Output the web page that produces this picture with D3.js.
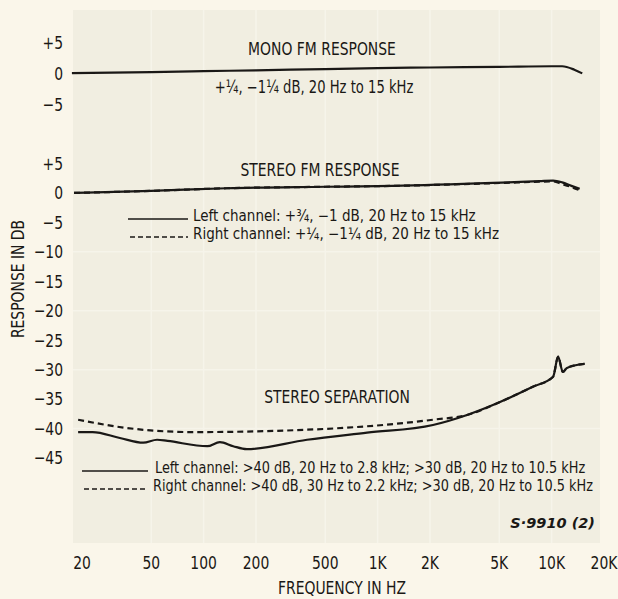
<!DOCTYPE html>
<html>
<head>
<meta charset="utf-8">
<script src="https://cdn.jsdelivr.net/npm/d3@7"></script>
<style>
  html, body { margin: 0; padding: 0; background: #faf6ea; }
  svg { display: block; }
  text { font-family: "Liberation Sans Narrow", "DejaVu Sans Condensed", "Arial Narrow", sans-serif; fill: #1a1815; }
</style>
</head>
<body>
<div id="chart"></div>
<script>
// frequency ticks
const freqTicks = [20, 50, 100, 200, 500, 1000, 2000, 5000, 10000, 20000];
const freqLabels = ["20", "50", "100", "200", "500", "1K", "2K", "5K", "10K", "20K"];
const monoTicks = [5, 0, -5];
const stereoTicks = [5, 0, -5, -10, -15, -20, -25, -30, -35, -40, -45];

// mono FM response [Hz, dB]
const monoFreq = [17.5, 50, 100, 200, 500, 1000, 2000, 5000, 10000, 11500, 13500, 15000];
const monoDb   = [0.15, 0.3, 0.45, 0.6, 0.8, 0.95, 1.05, 1.15, 1.25, 1.25, 0.7, 0.1];

// stereo FM response
const stereoFreq  = [18, 50, 136, 500, 1225, 4600, 8500, 10200, 11500, 13000, 14500];
const stereoLeft  = [0, 0.35, 0.8, 1.05, 1.2, 1.7, 2.0, 2.1, 1.8, 1.2, 0.7];
const stereoRight = [0, 0.35, 0.8, 1.05, 1.2, 1.65, 1.9, 1.95, 1.5, 1.0, 0.45];

// stereo separation
const sepLeftFreq = [19, 23, 33, 45, 54, 62, 105, 124, 148, 177, 393, 870, 2080, 3265, 5050, 7800, 10200, 10900, 11600, 12250, 15500];
const sepLeftDb   = [-40.6, -40.6, -41.6, -42.4, -41.9, -42.1, -43.0, -42.3, -43.0, -43.5, -41.9, -40.7, -39.4, -37.7, -35.5, -32.9, -31.2, -27.8, -30.4, -29.7, -29.0];
const sepRightFreq = [19, 36, 87, 393, 2080, 3265, 5050, 7800, 10200, 10900, 11600, 12250, 15500];
const sepRightDb   = [-38.5, -39.9, -40.6, -40.2, -38.5, -37.7, -35.5, -32.9, -31.2, -27.8, -30.4, -29.7, -29.0];

const width = 618, height = 599;
const plot = { left: 73, right: 600, top: 10, bottom: 543 };
const squeeze = 0.86; // narrow the type like the condensed original

const svg = d3.select('#chart').append('svg')
    .attr('width', width)
    .attr('height', height);

const x = d3.scaleLog().domain([20, 20000]).range([82, 604]);
const yMono = d3.scaleLinear().domain([-5, 5]).range([105, 43]);
const yStereo = d3.scaleLinear().domain([-45, 5]).range([458, 163.5]);

// shaded plot area with faint light grid
svg.append('rect')
    .attr('x', plot.left).attr('y', plot.top)
    .attr('width', plot.right - plot.left).attr('height', plot.bottom - plot.top)
    .attr('fill', '#f1eee1');

const grid = svg.append('g').attr('stroke', '#f6f4ea').attr('stroke-width', 1.5);
freqTicks.slice(1, -1).forEach(f => {
    grid.append('line')
        .attr('x1', x(f)).attr('x2', x(f))
        .attr('y1', plot.top).attr('y2', plot.bottom);
});
stereoTicks.filter(d => d % 10 === 0 && d < 0).forEach(d => {
    grid.append('line')
        .attr('x1', plot.left).attr('x2', plot.right)
        .attr('y1', yStereo(d)).attr('y2', yStereo(d));
});

const fmt = d => d > 0 ? '+' + d : d < 0 ? '\u2212' + Math.abs(d) : '0';

// text helper: place text then squeeze it horizontally around its anchor
function label(txt, px, py, size, anchor, sx) {
    return svg.append('text')
        .attr('transform', `translate(${px},${py}) scale(${sx || squeeze},1)`)
        .attr('dy', '0.35em')
        .attr('text-anchor', anchor || 'start')
        .style('font-size', size + 'px')
        .text(txt);
}

function yAxis(scale, ticks) {
    ticks.forEach(t => label(fmt(t), 63, scale(t), 18, 'end'));
}
yAxis(yMono, monoTicks);
yAxis(yStereo, stereoTicks);

freqTicks.forEach((f, i) => label(freqLabels[i], x(f), 563, 18, 'middle'));

// curves
const line = (yScale) => d3.line()
    .x(d => x(d[0]))
    .y(d => yScale(d[1]))
    .curve(d3.curveMonotoneX);

function drawCurve(freqs, vals, yScale, dashed) {
    svg.append('path')
        .datum(freqs.map((f, i) => [f, vals[i]]))
        .attr('d', line(yScale))
        .attr('fill', 'none')
        .attr('stroke', '#1a1816')
        .attr('stroke-width', 2.2)
        .attr('stroke-linejoin', 'round')
        .attr('stroke-dasharray', dashed ? '6,4' : null);
}
drawCurve(monoFreq, monoDb, yMono, false);
drawCurve(stereoFreq, stereoLeft, yStereo, false);
drawCurve(stereoFreq, stereoRight, yStereo, true);
drawCurve(sepLeftFreq, sepLeftDb, yStereo, false);
drawCurve(sepRightFreq, sepRightDb, yStereo, true);

// titles and notes
label('MONO FM RESPONSE', 322, 49, 18, 'middle');
label('+\u00BC, \u22121\u00BC dB, 20 Hz to 15 kHz', 314, 87, 17, 'middle');
label('STEREO FM RESPONSE', 320, 170, 18, 'middle');
label('STEREO SEPARATION', 337, 397, 18, 'middle');

function legendItem(px1, px2, py, dashed, txt, tx, sx) {
    svg.append('line')
        .attr('x1', px1).attr('x2', px2)
        .attr('y1', py).attr('y2', py)
        .attr('stroke', '#1a1816').attr('stroke-width', 1.3)
        .attr('stroke-dasharray', dashed ? '5,3' : null);
    label(txt, tx, py - 3, 15, 'start', sx);
}
legendItem(128, 188, 219, false, 'Left channel: +\u00BE, \u22121 dB, 20 Hz to 15 kHz', 193, 1.0);
legendItem(130, 188, 237, true, 'Right channel: +\u00BC, \u22121\u00BC dB, 20 Hz to 15 kHz', 193, 1.0);
legendItem(82, 148, 471, false, 'Left channel: >40 dB, 20 Hz to 2.8 kHz; >30 dB, 20 Hz to 10.5 kHz', 155, 0.955);
legendItem(84, 148, 489, true, 'Right channel: >40 dB, 30 Hz to 2.2 kHz; >30 dB, 20 Hz to 10.5 kHz', 153, 0.955);

label('S\u00B79910 (2)', 595, 523, 14.5, 'end', 1.0)
    .style('font-style', 'italic')
    .style('font-weight', 'bold')
    .style('font-family', '"DejaVu Sans", sans-serif');

label('FREQUENCY IN HZ', 342, 588, 18, 'middle');
svg.append('text')
    .attr('transform', `translate(18,279) rotate(-90) scale(${squeeze},1)`)
    .attr('text-anchor', 'middle')
    .attr('dy', '0.35em')
    .style('font-size', '18px')
    .text('RESPONSE IN DB');
</script>
</body>
</html>
